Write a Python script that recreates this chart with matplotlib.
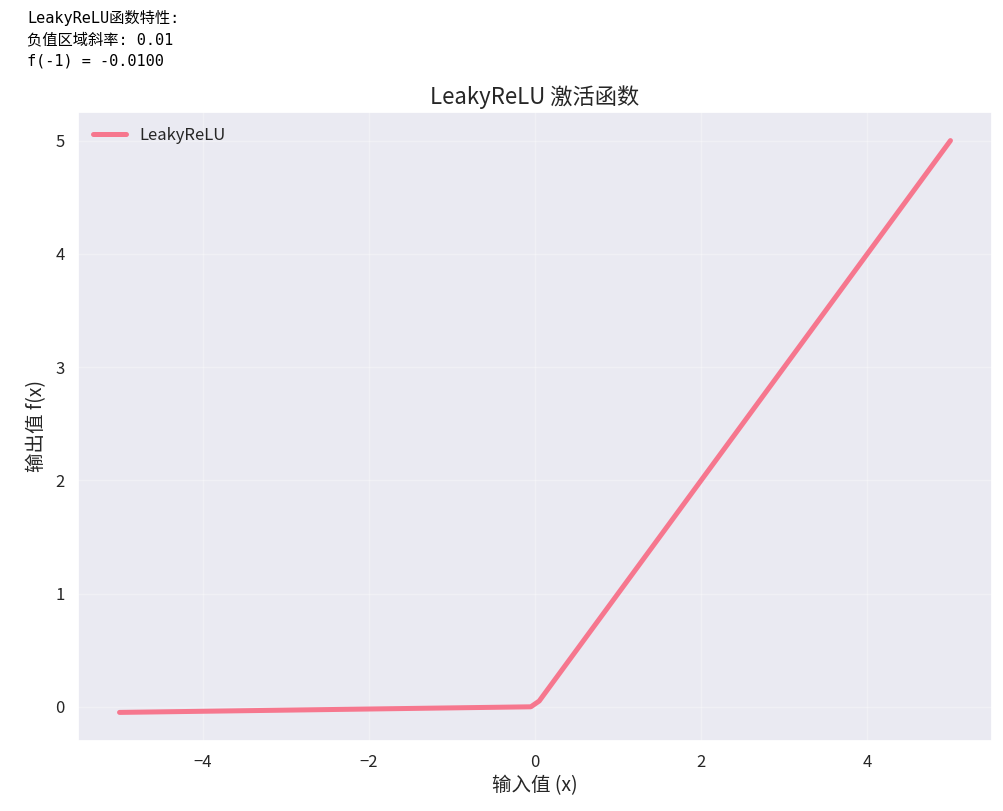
import matplotlib
matplotlib.use("Agg")
from matplotlib import pyplot as plt
import seaborn as sns

sns.set_theme(style="darkgrid", palette="husl")
plt.rcParams['font.family'] = ['Noto Sans CJK SC', 'DejaVu Sans']
plt.rcParams['axes.unicode_minus'] = True

# 读图得到的折线关键点 (LeakyReLU, 斜率 0.01)
x_vals = [-5.0, -0.0505, 0.0505, 5.0]
y_vals = [-0.05, -0.0005, 0.0505, 5.0]
print_lines = ["LeakyReLU函数特性:", "负值区域斜率: 0.01", "f(-1) = -0.0100"]
line_label = "LeakyReLU"

fig = plt.figure(figsize=(10.04, 8.11), dpi=100)
fig.patch.set_facecolor("white")

# 顶部的打印输出
for i, s in enumerate(print_lines):
    fig.text(27 / 1004, 1 - (18 + i * 21.5) / 811, s, fontsize=11,
             family=['DejaVu Sans Mono', 'Noto Sans CJK SC'],
             va="center", ha="left", color="black")

ax = fig.add_axes([78 / 1004, 70 / 811, 914 / 1004, 629 / 811])
ax.plot(x_vals, y_vals, color="#f77189", linewidth=3.6, alpha=0.95, label=line_label)
ax.set_title("LeakyReLU 激活函数", fontsize=16, pad=6)
ax.set_xlabel("输入值 (x)", fontsize=14, labelpad=3)
ax.set_ylabel("输出值 f(x)", fontsize=14, labelpad=6)
ax.grid(True, alpha=0.3)
ax.tick_params(labelsize=12)
ax.legend(loc="upper left", fontsize=12, frameon=False)

fig.savefig("out.png", dpi=100)
